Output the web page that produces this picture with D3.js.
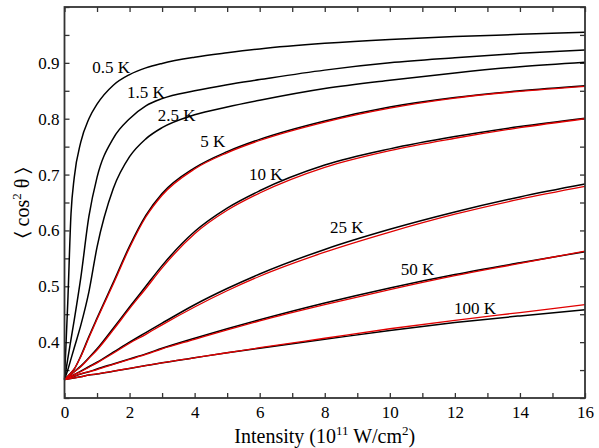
<!DOCTYPE html>
<html>
<head>
<meta charset="utf-8">
<script src="https://cdn.jsdelivr.net/npm/d3@7"></script>
<style>
  body { margin: 0; background: #fff; }
  text { font-family: "Liberation Serif", "DejaVu Serif", serif; }
</style>
</head>
<body>
<div id="chart"></div>
<script>
// intensity grid (10^11 W/cm^2)
const intensity = [0, 0.1, 0.2, 0.3, 0.5, 0.75, 1, 1.5, 2, 2.5, 3, 4, 5, 6, 8, 10, 12, 14, 16];

// <cos^2 theta>, full calculation (black)
const exact05  = [0.333, 0.47, 0.63, 0.695, 0.758, 0.800, 0.826, 0.860, 0.879, 0.891, 0.899, 0.910, 0.918, 0.925, 0.935, 0.942, 0.947, 0.951, 0.955];
const exact15  = [0.333, 0.37, 0.405, 0.44, 0.515, 0.625, 0.695, 0.765, 0.800, 0.823, 0.836, 0.850, 0.861, 0.870, 0.887, 0.900, 0.909, 0.917, 0.923];
const exact25  = [0.333, 0.35, 0.37, 0.39, 0.43, 0.49, 0.57, 0.675, 0.732, 0.764, 0.784, 0.807, 0.821, 0.833, 0.854, 0.869, 0.882, 0.893, 0.901];
const exact5   = [0.333, 0.339, 0.345, 0.352, 0.375, 0.41, 0.443, 0.507, 0.572, 0.627, 0.666, 0.712, 0.741, 0.763, 0.796, 0.821, 0.838, 0.850, 0.859];
const exact10  = [0.333, 0.337, 0.342, 0.347, 0.357, 0.372, 0.388, 0.425, 0.463, 0.50, 0.537, 0.598, 0.640, 0.671, 0.717, 0.746, 0.768, 0.786, 0.801];
const exact25K = [0.333, 0.336, 0.339, 0.342, 0.348, 0.356, 0.364, 0.382, 0.400, 0.417, 0.434, 0.467, 0.496, 0.522, 0.566, 0.602, 0.633, 0.660, 0.683];
const exact50  = [0.333, 0.335, 0.337, 0.339, 0.343, 0.347, 0.352, 0.361, 0.370, 0.379, 0.389, 0.407, 0.424, 0.440, 0.470, 0.497, 0.521, 0.542, 0.562];
const exact100 = [0.333, 0.334, 0.335, 0.336, 0.338, 0.341, 0.343, 0.348, 0.353, 0.358, 0.363, 0.372, 0.381, 0.389, 0.405, 0.421, 0.435, 0.447, 0.458];

// approximate model (red)
const model5   = [0.333, 0.339, 0.345, 0.352, 0.374, 0.408, 0.441, 0.504, 0.569, 0.624, 0.663, 0.710, 0.739, 0.761, 0.794, 0.819, 0.837, 0.849, 0.858];
const model10  = [0.333, 0.337, 0.342, 0.347, 0.356, 0.371, 0.386, 0.422, 0.460, 0.496, 0.533, 0.594, 0.636, 0.667, 0.713, 0.743, 0.765, 0.784, 0.800];
const model25  = [0.333, 0.336, 0.339, 0.342, 0.347, 0.355, 0.363, 0.380, 0.398, 0.414, 0.431, 0.463, 0.492, 0.518, 0.561, 0.597, 0.629, 0.656, 0.679];
const model50  = [0.333, 0.335, 0.337, 0.339, 0.343, 0.347, 0.351, 0.360, 0.369, 0.378, 0.388, 0.405, 0.422, 0.438, 0.467, 0.494, 0.519, 0.541, 0.563];
const model100 = [0.333, 0.334, 0.335, 0.336, 0.338, 0.341, 0.343, 0.348, 0.353, 0.358, 0.363, 0.372, 0.381, 0.390, 0.407, 0.424, 0.439, 0.453, 0.467];

const temps = ["0.5 K", "1.5 K", "2.5 K", "5 K", "10 K", "25 K", "50 K", "100 K"];
const exactSeries = [exact05, exact15, exact25, exact5, exact10, exact25K, exact50, exact100];
const modelSeries = [model5, model10, model25, model50, model100];

// label anchors, in data units (intensity, <cos^2>)
const labelX = [0.85, 1.92, 2.87, 4.17, 5.67, 8.16, 10.34, 11.97];
const labelY = [0.882, 0.837, 0.796, 0.750, 0.690, 0.596, 0.521, 0.451];

const xTicks = d3.range(0, 17, 1);
const yTicks = d3.range(0.30, 1.001, 0.05);

const W = 599, H = 448;
const margin = { top: 7, right: 14, bottom: 50, left: 64.5 };
const width = W - margin.left - margin.right,
    height = H - margin.top - margin.bottom;

const svg = d3.select("#chart")
    .append("svg")
    .attr("width", W)
    .attr("height", H)
    .append("g")
    .attr("transform", "translate(" + margin.left + "," + margin.top + ")");

const x = d3.scaleLinear().domain([0, 16]).range([0, width]);
const y = d3.scaleLinear().domain([0.3, 1.0]).range([height, 0]);

const fontsize = 17, tickLen = 5, axisColor = "#333";

function isMajorX(d) { return Math.round(d) % 2 === 0; }
function isMajorY(d) { return Math.abs(Math.round(d * 100) % 10) === 0; }

// axes (ticks inward, on all four sides)
const axisB = d3.axisBottom(x).tickValues(xTicks).tickSize(-tickLen).tickPadding(8)
    .tickFormat(d => isMajorX(d) ? d : "");
const axisT = d3.axisTop(x).tickValues(xTicks).tickSize(-tickLen).tickFormat("");
const axisL = d3.axisLeft(y).tickValues(yTicks).tickSize(-tickLen).tickPadding(5)
    .tickFormat(d => (isMajorY(d) && d > 0.31 && d < 0.99) ? d3.format(".1f")(d) : "");
const axisR = d3.axisRight(y).tickValues(yTicks).tickSize(-tickLen).tickFormat("");

const gB = svg.append("g").attr("transform", `translate(0,${height})`).call(axisB);
const gT = svg.append("g").call(axisT);
const gL = svg.append("g").call(axisL);
const gR = svg.append("g").attr("transform", `translate(${width},0)`).call(axisR);

[gB, gT, gL, gR].forEach(g => {
    g.select(".domain").remove();
    g.selectAll(".tick line").attr("stroke", axisColor).attr("stroke-width", 1.3);
    g.selectAll(".tick text")
        .attr("font-size", fontsize)
        .attr("font-family", "Liberation Serif, serif")
        .attr("fill", "#000");
});

// curves
const line = d3.line()
    .x((d, i) => x(intensity[i]))
    .y(d => y(d))
    .curve(d3.curveMonotoneX);

const content = svg.append("g").attr("class", "content");

content.selectAll(".exact")
    .data(exactSeries)
    .enter().append("path")
    .attr("class", "exact")
    .attr("d", line)
    .attr("fill", "none")
    .attr("stroke", "#000")
    .attr("stroke-width", 1.5);

content.selectAll(".model")
    .data(modelSeries)
    .enter().append("path")
    .attr("class", "model")
    .attr("d", line)
    .attr("fill", "none")
    .attr("stroke", "#e00000")
    .attr("stroke-width", 1.3);

// frame
svg.append("rect")
    .attr("x", 0).attr("y", 0)
    .attr("width", width).attr("height", height)
    .attr("fill", "none")
    .attr("stroke", axisColor)
    .attr("stroke-width", 1.8);

// temperature labels
svg.append("g").selectAll("text")
    .data(temps)
    .enter().append("text")
    .attr("x", (d, i) => x(labelX[i]))
    .attr("y", (d, i) => y(labelY[i]))
    .attr("font-size", fontsize)
    .attr("fill", "#000")
    .text(d => d);

// axis titles
const xt = svg.append("text")
    .attr("x", width / 2)
    .attr("y", height + 45)
    .attr("text-anchor", "middle")
    .attr("font-size", 20)
    .attr("fill", "#000");
xt.append("tspan").text("Intensity (10");
xt.append("tspan").attr("font-size", 13).attr("dy", -8).text("11");
xt.append("tspan").attr("dy", 8).text(" W/cm");
xt.append("tspan").attr("font-size", 13).attr("dy", -8).text("2");
xt.append("tspan").attr("dy", 8).text(")");

const yt = svg.append("text")
    .attr("transform", `translate(${-36}, ${height / 2}) rotate(-90)`)
    .attr("text-anchor", "middle")
    .attr("font-size", 20)
    .attr("fill", "#000");
yt.append("tspan").text("\u2329 cos");
yt.append("tspan").attr("font-size", 13).attr("dy", -8).text("2");
yt.append("tspan").attr("dy", 8).text(" \u03b8 \u232a");
</script>
</body>
</html>
